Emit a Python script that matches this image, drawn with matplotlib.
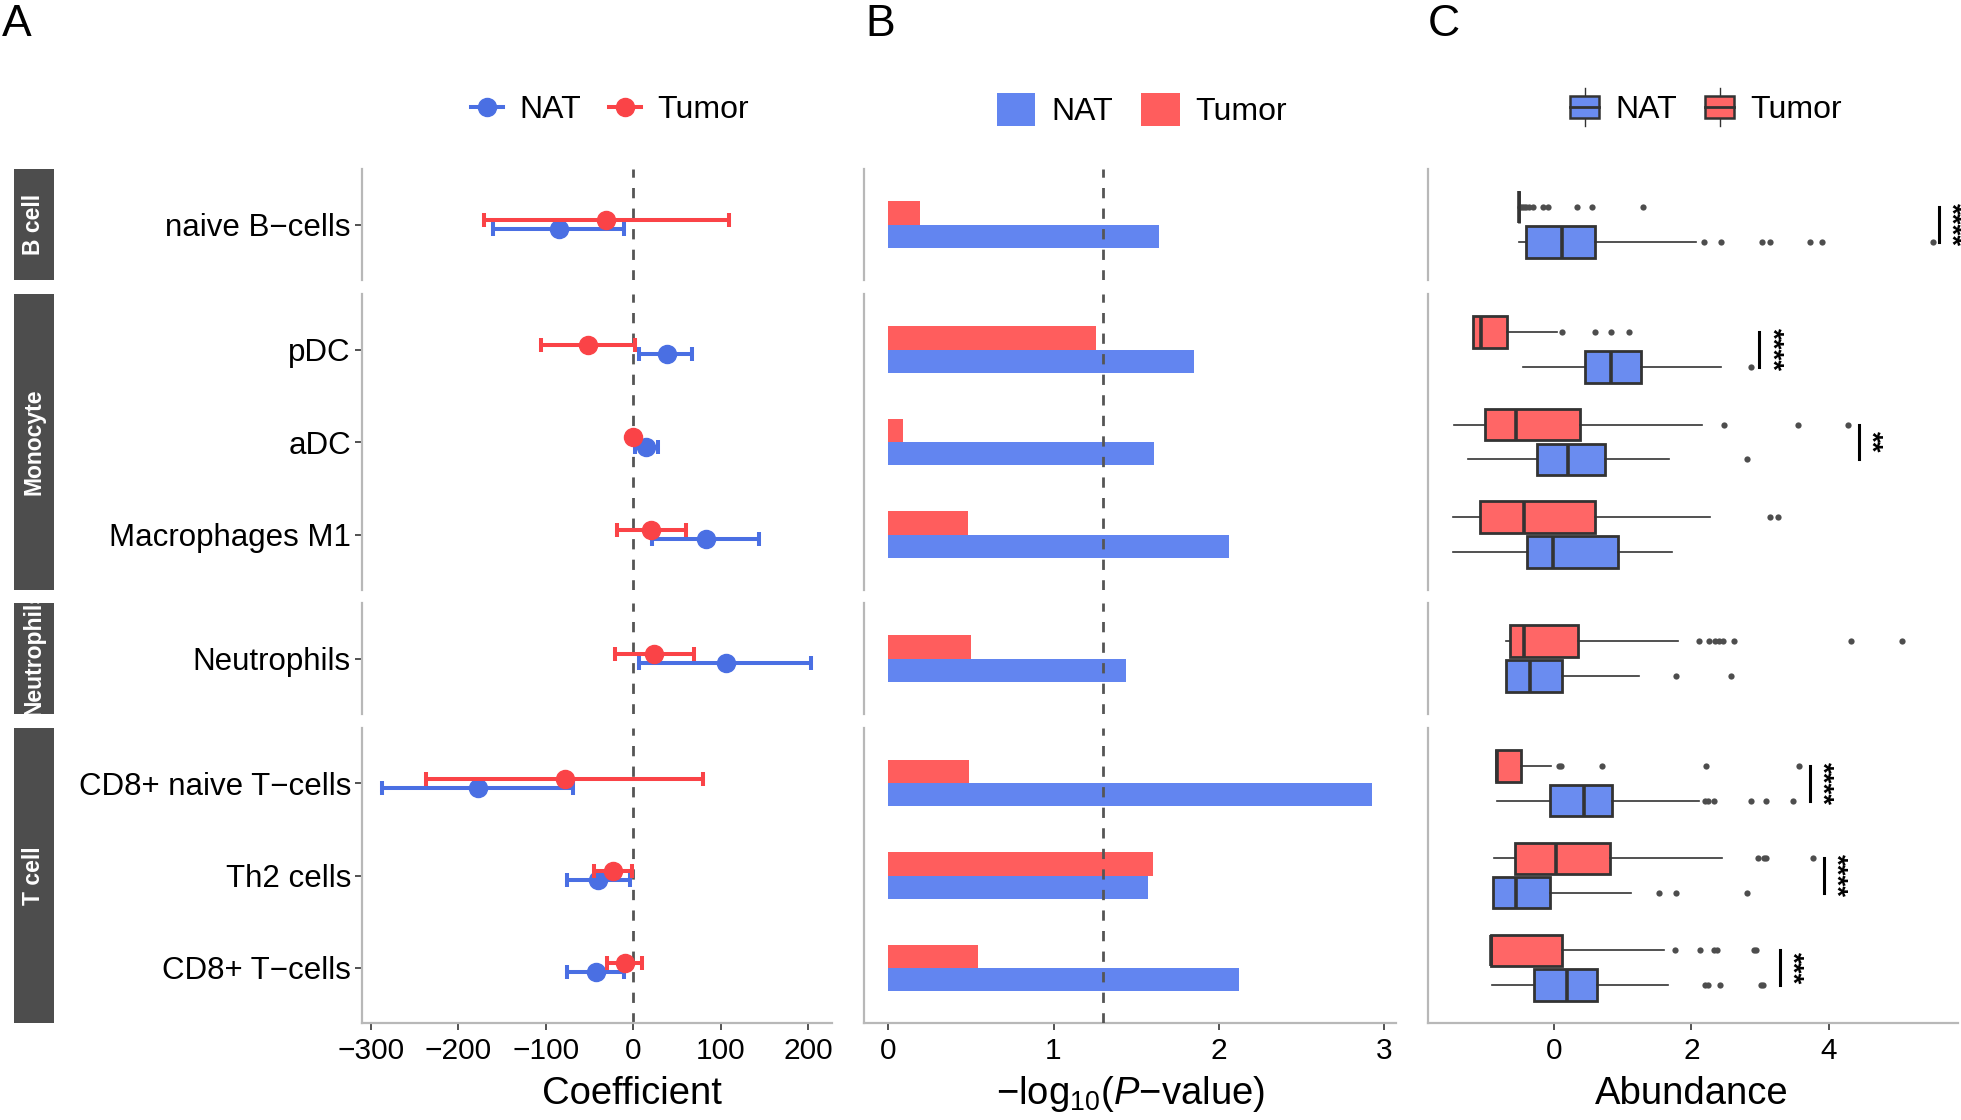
import numpy as np
import matplotlib
matplotlib.use('Agg')
import matplotlib.pyplot as plt
from matplotlib.patches import Rectangle, Patch
from matplotlib.lines import Line2D
from matplotlib.legend_handler import HandlerBase

plt.rcParams['font.family'] = ['Liberation Sans', 'DejaVu Sans']
plt.rcParams['mathtext.fontset'] = 'custom'
plt.rcParams['mathtext.rm'] = 'Liberation Sans'
plt.rcParams['mathtext.it'] = 'Liberation Sans:italic'

# ---- data ----
cells = ['naive B\u2212cells', 'pDC', 'aDC', 'Macrophages M1', 'Neutrophils',
         'CD8+ naive T\u2212cells', 'Th2 cells', 'CD8+ T\u2212cells']
groups = ['B cell', 'Monocyte', 'Neutrophils', 'T cell']
group_of = [0, 1, 1, 1, 2, 3, 3, 3]

# A: coefficient with 95% CI
coef_nat = [-85, 38, 15, 83, 106, -178, -40, -43]
lo_nat = [-160, 7, 2, 21, 7, -287, -76, -76]
hi_nat = [-11, 67, 28, 144, 203, -69, -4, -11]
coef_tum = [-31, -52, 0, 20, 24, -78, -23, -10]
lo_tum = [-171, -106, -3, -19, -21, -237, -45, -30]
hi_tum = [109, 2, 3, 60, 69, 80, -2, 10]

# B: -log10(P)
logp_nat = [1.64, 1.85, 1.61, 2.06, 1.44, 2.93, 1.57, 2.12]
logp_tum = [0.19, 1.26, 0.09, 0.48, 0.50, 0.49, 1.60, 0.54]

# C: abundance box stats
nat_wlo = [-0.515, -0.45, -1.26, -1.465, -0.70, -0.83, -0.885, -0.905]
nat_q1 = [-0.41, 0.455, -0.25, -0.39, -0.70, -0.06, -0.885, -0.295]
nat_med = [0.11, 0.835, 0.20, -0.01, -0.355, 0.44, -0.56, 0.19]
nat_q3 = [0.59, 1.26, 0.74, 0.925, 0.115, 0.84, -0.065, 0.625]
nat_whi = [2.065, 2.435, 1.67, 1.72, 1.23, 2.115, 1.12, 1.66]
nat_out = [[2.185, 2.43, 3.025, 3.14, 3.725, 3.905, 5.515], [2.86], [2.805], [],
           [1.775, 2.58], [2.2, 2.24, 2.33, 2.87, 3.08, 3.485],
           [1.525, 1.78, 2.815], [2.19, 2.24, 2.41, 3.01, 3.035]]
tum_wlo = [-0.515, -1.175, -1.45, -1.475, -0.70, -0.845, -0.875, -0.915]
tum_q1 = [-0.515, -1.175, -1.0, -1.085, -0.645, -0.845, -0.57, -0.915]
tum_med = [-0.515, -1.06, -0.55, -0.435, -0.435, -0.83, 0.025, -0.915]
tum_q3 = [-0.515, -0.685, 0.38, 0.60, 0.35, -0.48, 0.815, 0.11]
tum_whi = [-0.515, 0.04, 2.15, 2.275, 1.81, -0.04, 2.45, 1.60]
tum_out = [[-0.49, -0.47, -0.44, -0.41, -0.36, -0.30, -0.16, -0.085, 0.335, 0.55, 1.29],
           [0.11, 0.59, 0.83, 1.095], [2.475, 3.545, 4.28], [3.15, 3.265],
           [2.115, 2.25, 2.35, 2.40, 2.46, 2.625, 4.325, 5.07],
           [0.065, 0.10, 0.705, 2.215, 3.565], [2.965, 3.05, 3.09, 3.765],
           [1.76, 2.125, 2.335, 2.375, 2.91, 2.94]]
sig_x = [5.6, 2.985, 4.435, np.nan, np.nan, 3.725, 3.925, 3.29]
sig_lab = ['****', '****', '**', '', '', '****', '****', '***']

BLUE_A, RED_A = '#4A6FE3', '#FA4347'
BLUE_B, RED_B = '#6285F0', '#FF5D5D'
BLUE_C, RED_C = '#6A8CF0', '#FF6666'
SPINE = '#B8B8B8'
DARK = '#333333'

W, H = 1961, 1120
fig = plt.figure(figsize=(W / 100, H / 100), dpi=100)


def ax_at(x0, x1, y0, y1):
    return fig.add_axes([x0 / W, 1 - y1 / H, (x1 - x0) / W, (y1 - y0) / H])


rows_px = [(169, 280), (294, 590), (603, 714), (728, 1023)]
cols_px = [(362, 832), (864, 1396), (1428, 1958)]
xlims = [(-310, 227), (-0.147, 3.073), (-1.835, 5.88)]
xticks = [[-300, -200, -100, 0, 100, 200], [0, 1, 2, 3], [0, 2, 4]]
xlabels = ['Coefficient', '\u2212log$_{10}$($P$\u2212value)', 'Abundance']
xlab_pos = [0.574, 0.5, 0.498]


class BoxGlyph(HandlerBase):
    def create_artists(self, legend, orig_handle, xdescent, ydescent,
                       width, height, fontsize, trans):
        x0, y0 = -xdescent, -ydescent
        cx = x0 + width / 2
        box = Rectangle((x0, y0), width, height, facecolor=orig_handle.get_facecolor(),
                        edgecolor=DARK, lw=1.8, transform=trans)
        med = Line2D([x0, x0 + width], [y0 + height / 2] * 2, color=DARK, lw=2, transform=trans)
        w1 = Line2D([cx, cx], [y0 + height, y0 + height * 1.35], color=DARK, lw=1, transform=trans)
        w2 = Line2D([cx, cx], [y0 - height * 0.35, y0], color=DARK, lw=1, transform=trans)
        return [w1, w2, box, med]


for g, (ry0, ry1) in enumerate(rows_px):
    idx = [i for i in range(len(cells)) if group_of[i] == g]
    n = len(idx)
    pos = np.arange(n)
    last = g == len(rows_px) - 1

    # strip (long label in a short strip starts at the bottom and gets clipped)
    sax = ax_at(14, 54, ry0, ry1)
    sax.set_facecolor('#4D4D4D')
    sax.set_xticks([])
    sax.set_yticks([])
    for s in sax.spines.values():
        s.set_visible(False)
    long_label = n == 1 and len(groups[g]) > 8
    sax.text(0.5, -0.02 if long_label else 0.5, groups[g], rotation=90, color='white',
             fontweight='bold', fontsize=16.5, ha='center',
             va='bottom' if long_label else 'center',
             transform=sax.transAxes, clip_on=True)

    axes = [ax_at(c0, c1, ry0, ry1) for (c0, c1) in cols_px]
    for c, ax in enumerate(axes):
        ax.set_xlim(*xlims[c])
        ax.set_ylim(n - 1 + 0.6, -0.6)
        for s in ['top', 'right']:
            ax.spines[s].set_visible(False)
        ax.spines['left'].set_color(SPINE)
        ax.spines['left'].set_linewidth(1.6)
        ax.spines['bottom'].set_color(SPINE)
        ax.spines['bottom'].set_linewidth(1.6)
        ax.tick_params(axis='both', direction='out', length=5, width=1.2, color=DARK)
        ax.set_xticks(xticks[c])
        if last:
            ax.tick_params(axis='x', labelsize=21.5, pad=5)
            ax.set_xlabel(xlabels[c], fontsize=27.5)
            ax.xaxis.set_label_coords(xlab_pos[c], -71 / (ry1 - ry0))
            ax.xaxis.label.set_va('center')
        else:
            ax.spines['bottom'].set_visible(False)
            ax.tick_params(axis='x', bottom=False, labelbottom=False)
        if c == 0:
            ax.set_yticks(pos)
            ax.set_yticklabels([cells[i] for i in idx], fontsize=22.5)
            ax.tick_params(axis='y', pad=3)
        else:
            ax.set_yticks([])

    # A: forest plot
    ax = axes[0]
    ax.axvline(0, color='#555555', lw=2, linestyle=(0, (3.7, 3.7)), zorder=1)
    cn = np.array([coef_nat[i] for i in idx])
    ct = np.array([coef_tum[i] for i in idx])
    ax.errorbar(cn, pos + 0.05,
                xerr=[cn - np.array([lo_nat[i] for i in idx]), np.array([hi_nat[i] for i in idx]) - cn],
                fmt='o', color=BLUE_A, ms=13, elinewidth=2.9, capsize=5, capthick=2.9, zorder=3)
    ax.errorbar(ct, pos - 0.05,
                xerr=[ct - np.array([lo_tum[i] for i in idx]), np.array([hi_tum[i] for i in idx]) - ct],
                fmt='o', color=RED_A, ms=13, elinewidth=2.9, capsize=5, capthick=2.9, zorder=4)

    # B: bars
    ax = axes[1]
    ax.barh(pos - 0.125, [logp_tum[i] for i in idx], height=0.25, color=RED_B, zorder=2)
    ax.barh(pos + 0.125, [logp_nat[i] for i in idx], height=0.25, color=BLUE_B, zorder=2)
    ax.axvline(-np.log10(0.05), color='#555555', lw=2, linestyle=(0, (3.7, 3.7)), zorder=3)

    # C: boxplots
    ax = axes[2]
    for lab, wlo, q1, med, q3, whi, out, col, off in [
            ('Tumor', tum_wlo, tum_q1, tum_med, tum_q3, tum_whi, tum_out, RED_C, -0.1875),
            ('NAT', nat_wlo, nat_q1, nat_med, nat_q3, nat_whi, nat_out, BLUE_C, 0.1875)]:
        stats = [dict(whislo=wlo[i], q1=q1[i], med=med[i], q3=q3[i], whishi=whi[i],
                      fliers=np.array(out[i])) for i in idx]
        ax.bxp(stats, positions=pos + off, widths=0.34, orientation='horizontal',
               patch_artist=True, showcaps=False, manage_ticks=False,
               boxprops=dict(facecolor=col, edgecolor=DARK, linewidth=2),
               medianprops=dict(color=DARK, linewidth=2.6),
               whiskerprops=dict(color=DARK, linewidth=1.2),
               flierprops=dict(marker='o', markersize=4.5, markerfacecolor='#4D4D4D',
                               markeredgecolor='none'))
    for k, i in enumerate(idx):
        if sig_lab[i]:
            ax.plot([sig_x[i], sig_x[i]], [k - 0.1875, k + 0.1875], color='black', lw=2.2,
                    clip_on=False)
            ax.text(sig_x[i] + 0.17, k, sig_lab[i], rotation=270, ha='center', va='center',
                    fontsize=20, fontweight='bold', clip_on=False)

# legends
fig.legend([Line2D([0], [0], color=BLUE_A, marker='o', ms=13, lw=2.9),
            Line2D([0], [0], color=RED_A, marker='o', ms=13, lw=2.9)],
           ['NAT', 'Tumor'], loc='center', bbox_to_anchor=(610 / W, 1 - 110 / H), ncol=2,
           frameon=False, fontsize=23, handlelength=1.0, handletextpad=0.5, columnspacing=0.9)
fig.legend([Patch(facecolor=BLUE_B), Patch(facecolor=RED_B)],
           ['NAT', 'Tumor'], loc='center', bbox_to_anchor=(1142 / W, 1 - 110 / H), ncol=2,
           frameon=False, fontsize=23, handlelength=1.2, handleheight=1.25,
           handletextpad=0.5, columnspacing=0.9)
fig.legend([Patch(facecolor=BLUE_C), Patch(facecolor=RED_C)],
           ['NAT', 'Tumor'], loc='center', bbox_to_anchor=(1706 / W, 1 - 110 / H), ncol=2,
           frameon=False, fontsize=23, handlelength=0.9, handleheight=0.7,
           handletextpad=0.5, columnspacing=0.9, handler_map={Patch: BoxGlyph()})

for lab, x in [('A', 2), ('B', 865), ('C', 1428)]:
    fig.text(x / W, 1 - 25 / H, lab, fontsize=32, ha='left', va='center')

fig.savefig('out.png', dpi=100)
